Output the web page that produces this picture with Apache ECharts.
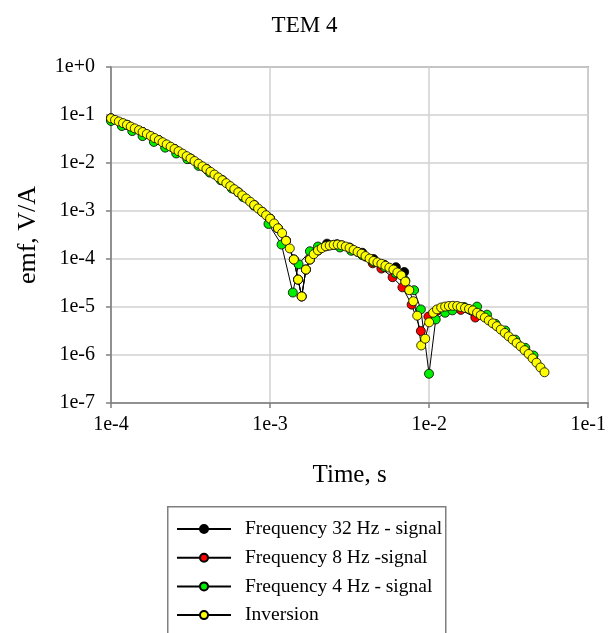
<!DOCTYPE html>
<html>
<head>
<meta charset="utf-8">
<script src="https://cdn.jsdelivr.net/npm/echarts@6/dist/echarts.min.js"></script>
<style>
html,body{margin:0;padding:0;background:#fff;}
#c{width:609px;height:633px;}
</style>
</head>
<body>
<div id="c"></div>
<script>
// ---------- DATA ----------
var chartTitle = 'TEM 4';
var xAxisTitle = 'Time, s';
var yAxisTitle = 'emf, V/A';
var xTickLabels = ['1e-4', '1e-3', '1e-2', '1e-1'];
var yTickLabels = ['1e-7', '1e-6', '1e-5', '1e-4', '1e-3', '1e-2', '1e-1', '1e+0'];
var seriesNames = ['Frequency 32 Hz - signal', 'Frequency 8 Hz -signal', 'Frequency 4 Hz - signal', 'Inversion'];

// Frequency 32 Hz - signal
var time32 = [1.00e-4, 1.26e-4, 1.58e-4, 2.00e-4, 2.51e-4, 3.16e-4, 3.98e-4, 5.01e-4, 6.31e-4, 7.94e-4,
  1.00e-3, 1.12e-3, 1.26e-3, 1.41e-3, 1.50e-3, 1.58e-3, 1.68e-3, 1.78e-3, 2.00e-3, 2.28e-3,
  2.63e-3, 3.16e-3, 3.80e-3, 4.47e-3, 5.22e-3, 6.18e-3, 6.97e-3];
var emf32 = [8.51e-2, 6.25e-2, 4.42e-2, 3.00e-2, 1.96e-2, 1.24e-2, 7.50e-3, 4.38e-3, 2.46e-3, 1.33e-3,
  6.92e-4, 4.37e-4, 2.40e-4, 9.77e-5, 3.72e-5, 1.66e-5, 6.03e-5, 9.77e-5, 1.51e-4, 2.09e-4,
  2.04e-4, 1.74e-4, 1.35e-4, 1.00e-4, 7.59e-5, 6.76e-5, 5.37e-5];

// Frequency 8 Hz - signal
var time8 = [1.00e-4, 1.26e-4, 1.58e-4, 2.00e-4, 2.51e-4, 3.16e-4, 3.98e-4, 5.01e-4, 6.31e-4, 7.94e-4,
  8.91e-4, 1.00e-3, 1.12e-3, 1.26e-3, 1.41e-3, 1.50e-3, 1.58e-3, 1.68e-3, 1.78e-3, 2.00e-3,
  2.24e-3, 2.51e-3, 2.82e-3, 3.16e-3, 3.55e-3, 3.98e-3, 4.42e-3, 5.01e-3, 5.89e-3, 6.79e-3,
  7.76e-3, 8.87e-3, 9.89e-3, 1.12e-2, 1.32e-2, 1.58e-2, 1.95e-2];
var emf8 = [8.51e-2, 6.25e-2, 4.42e-2, 3.00e-2, 1.96e-2, 1.24e-2, 7.50e-3, 4.38e-3, 2.46e-3, 1.33e-3,
  9.64e-4, 6.92e-4, 4.37e-4, 2.40e-4, 9.77e-5, 3.72e-5, 1.66e-5, 6.03e-5, 9.77e-5, 1.51e-4,
  1.84e-4, 1.97e-4, 1.93e-4, 1.70e-4, 1.41e-4, 1.12e-4, 8.13e-5, 6.31e-5, 4.17e-5, 2.57e-5,
  1.12e-5, 3.16e-6, 6.31e-6, 8.32e-6, 9.55e-6, 8.71e-6, 6.03e-6];

// Frequency 4 Hz - signal
var time4 = [1.00e-4, 1.17e-4, 1.36e-4, 1.58e-4, 1.86e-4, 2.19e-4, 2.57e-4, 3.02e-4, 3.55e-4, 4.17e-4,
  4.90e-4, 5.75e-4, 6.76e-4, 7.94e-4, 9.77e-4, 1.18e-3, 1.39e-3, 1.51e-3, 1.78e-3, 2.00e-3,
  2.34e-3, 2.75e-3, 3.24e-3, 3.80e-3, 4.47e-3, 5.25e-3, 6.17e-3, 7.08e-3, 8.04e-3, 8.87e-3,
  9.98e-3, 1.10e-2, 1.26e-2, 1.40e-2, 1.66e-2, 2.00e-2, 2.31e-2, 2.61e-2, 3.01e-2, 3.48e-2,
  4.02e-2, 4.53e-2];
var emf4 = [7.50e-2, 5.89e-2, 4.62e-2, 3.63e-2, 2.75e-2, 2.09e-2, 1.58e-2, 1.20e-2, 8.71e-3, 6.31e-3,
  4.37e-3, 2.95e-3, 1.95e-3, 1.29e-3, 5.37e-4, 2.00e-4, 2.00e-5, 7.76e-5, 1.45e-4, 1.82e-4,
  1.91e-4, 1.74e-4, 1.48e-4, 1.20e-4, 8.71e-5, 6.76e-5, 5.01e-5, 3.55e-5, 2.24e-5, 8.91e-6,
  4.07e-7, 5.50e-6, 7.59e-6, 8.51e-6, 1.00e-5, 1.02e-5, 6.92e-6, 4.47e-6, 3.24e-6, 2.09e-6,
  1.41e-6, 9.77e-7];

// Inversion
var timeInv = [1.00e-4, 1.06e-4, 1.12e-4, 1.19e-4, 1.26e-4, 1.33e-4, 1.41e-4, 1.50e-4, 1.58e-4, 1.68e-4,
  1.78e-4, 1.88e-4, 2.00e-4, 2.11e-4, 2.24e-4, 2.37e-4, 2.51e-4, 2.66e-4, 2.82e-4, 2.99e-4,
  3.16e-4, 3.35e-4, 3.55e-4, 3.76e-4, 3.98e-4, 4.22e-4, 4.47e-4, 4.73e-4, 5.01e-4, 5.31e-4,
  5.62e-4, 5.96e-4, 6.31e-4, 6.68e-4, 7.08e-4, 7.50e-4, 7.94e-4, 8.41e-4, 8.91e-4, 9.44e-4,
  1.00e-3, 1.06e-3, 1.12e-3, 1.19e-3, 1.26e-3, 1.33e-3, 1.41e-3, 1.50e-3, 1.58e-3, 1.68e-3,
  1.78e-3, 1.88e-3, 2.00e-3, 2.11e-3, 2.24e-3, 2.37e-3, 2.51e-3, 2.66e-3, 2.82e-3, 2.99e-3,
  3.16e-3, 3.35e-3, 3.55e-3, 3.76e-3, 3.98e-3, 4.22e-3, 4.47e-3, 4.73e-3, 5.01e-3, 5.31e-3,
  5.62e-3, 5.96e-3, 6.31e-3, 6.68e-3, 7.08e-3, 7.50e-3, 7.94e-3, 8.41e-3, 8.91e-3, 9.44e-3,
  1.00e-2, 1.06e-2, 1.12e-2, 1.19e-2, 1.26e-2, 1.33e-2, 1.41e-2, 1.50e-2, 1.58e-2, 1.68e-2,
  1.78e-2, 1.88e-2, 2.00e-2, 2.11e-2, 2.24e-2, 2.37e-2, 2.51e-2, 2.66e-2, 2.82e-2, 2.99e-2,
  3.16e-2, 3.35e-2, 3.55e-2, 3.76e-2, 3.98e-2, 4.22e-2, 4.47e-2, 4.73e-2, 5.01e-2, 5.31e-2];
var emfInv = [8.51e-2, 7.91e-2, 7.33e-2, 6.78e-2, 6.25e-2, 5.74e-2, 5.27e-2, 4.83e-2, 4.42e-2, 4.02e-2,
  3.66e-2, 3.32e-2, 3.00e-2, 2.71e-2, 2.44e-2, 2.19e-2, 1.96e-2, 1.76e-2, 1.57e-2, 1.39e-2,
  1.24e-2, 1.10e-2, 9.68e-3, 8.53e-3, 7.50e-3, 6.58e-3, 5.75e-3, 5.02e-3, 4.38e-3, 3.80e-3,
  3.30e-3, 2.85e-3, 2.46e-3, 2.12e-3, 1.82e-3, 1.56e-3, 1.33e-3, 1.13e-3, 9.64e-4, 8.17e-4,
  6.92e-4, 5.50e-4, 4.37e-4, 3.47e-4, 2.40e-4, 1.66e-4, 9.77e-5, 3.72e-5, 1.66e-5, 6.03e-5,
  9.77e-5, 1.26e-4, 1.51e-4, 1.68e-4, 1.84e-4, 1.91e-4, 1.97e-4, 2.00e-4, 1.93e-4, 1.82e-4,
  1.70e-4, 1.55e-4, 1.41e-4, 1.29e-4, 1.15e-4, 1.02e-4, 9.12e-5, 8.51e-5, 7.94e-5, 7.24e-5,
  6.61e-5, 6.03e-5, 5.25e-5, 4.57e-5, 3.39e-5, 2.24e-5, 1.32e-5, 6.61e-6, 1.58e-6, 2.19e-6,
  4.79e-6, 7.59e-6, 8.91e-6, 9.77e-6, 1.02e-5, 1.05e-5, 1.06e-5, 1.05e-5, 1.00e-5, 9.55e-6,
  9.12e-6, 8.51e-6, 7.59e-6, 6.76e-6, 6.03e-6, 5.25e-6, 4.57e-6, 3.98e-6, 3.39e-6, 2.88e-6,
  2.45e-6, 2.09e-6, 1.78e-6, 1.51e-6, 1.26e-6, 1.05e-6, 8.51e-7, 6.92e-7, 5.50e-7, 4.37e-7];

var seriesColors = ['#000000', '#ff0000', '#00ee00', '#ffff00'];

// ---------- CHART ----------
function pairs(t, v) { return t.map(function (x, i) { return [x, v[i]]; }); }
function tickText(labels, minExp) {
  return function (val) {
    var e = Math.round(Math.log(val) / Math.LN10);
    var s = labels[e - minExp];
    return s === undefined ? '' : s;
  };
}

var serif = 'Liberation Serif';
var allData = [pairs(time32, emf32), pairs(time8, emf8), pairs(time4, emf4), pairs(timeInv, emfInv)];

var series = allData.map(function (d, i) {
  return {
    name: seriesNames[i],
    type: 'line',
    data: d,
    symbol: 'circle',
    symbolSize: 9,
    showAllSymbol: true,
    animation: false,
    lineStyle: { color: '#000', width: 1 },
    itemStyle: { color: seriesColors[i], borderColor: '#000', borderWidth: 0.8 }
  };
});

var chart = echarts.init(document.getElementById('c'), null, { renderer: 'canvas' });
chart.setOption({
  animation: false,
  backgroundColor: '#fff',
  title: {
    text: chartTitle, left: 'center', top: 9,
    textStyle: { fontFamily: serif, fontSize: 23, fontWeight: 'normal', color: '#000' }
  },
  grid: {
    left: 111, top: 67, width: 479, height: 336,
    show: true, borderColor: '#7f7f7f', borderWidth: 1.5, backgroundColor: 'transparent'
  },
  graphic: [{
    type: 'rect', left: 167, top: 506, z: 0,
    shape: { width: 278, height: 160 },
    style: { fill: '#fff', stroke: '#7f7f7f', lineWidth: 1.5 }
  }],
  legend: {
    orient: 'vertical',
    left: 167, top: 506,
    padding: [13, 8, 0, 9],
    itemWidth: 54, itemHeight: 10, itemGap: 8.7,
    textStyle: { fontFamily: serif, fontSize: 19.5, color: '#000', lineHeight: 20, padding: [0, 0, 0, 9] },
    data: seriesNames
  },
  xAxis: {
    type: 'log', logBase: 10, min: 1e-4, max: 1e-1, splitNumber: 3,
    name: xAxisTitle, nameLocation: 'middle', nameGap: 60,
    nameTextStyle: { fontFamily: serif, fontSize: 25, color: '#000' },
    axisLine: { show: true, lineStyle: { color: '#7f7f7f', width: 1.5 } },
    axisTick: { show: true, inside: false, length: 5, lineStyle: { color: '#7f7f7f', width: 1.5 } },
    minorTick: { show: false },
    axisLabel: { margin: 12, fontFamily: serif, fontSize: 20, color: '#000', formatter: tickText(xTickLabels, -4) },
    splitLine: { show: true, lineStyle: { color: '#d0d0d0', width: 1.5 } }
  },
  yAxis: {
    type: 'log', logBase: 10, min: 1e-7, max: 1, splitNumber: 7,
    name: yAxisTitle, nameLocation: 'middle', nameGap: 70, nameRotate: 90,
    nameTextStyle: { fontFamily: serif, fontSize: 26, color: '#000' },
    axisLine: { show: true, lineStyle: { color: '#7f7f7f', width: 1.5 } },
    axisTick: { show: true, inside: false, length: 5, lineStyle: { color: '#7f7f7f', width: 1.5 } },
    axisLabel: { margin: 16, fontFamily: serif, fontSize: 20, color: '#000', formatter: tickText(yTickLabels, -7) },
    splitLine: { show: true, lineStyle: { color: '#d0d0d0', width: 1.5 } }
  },
  series: series
});
</script>
</body>
</html>
